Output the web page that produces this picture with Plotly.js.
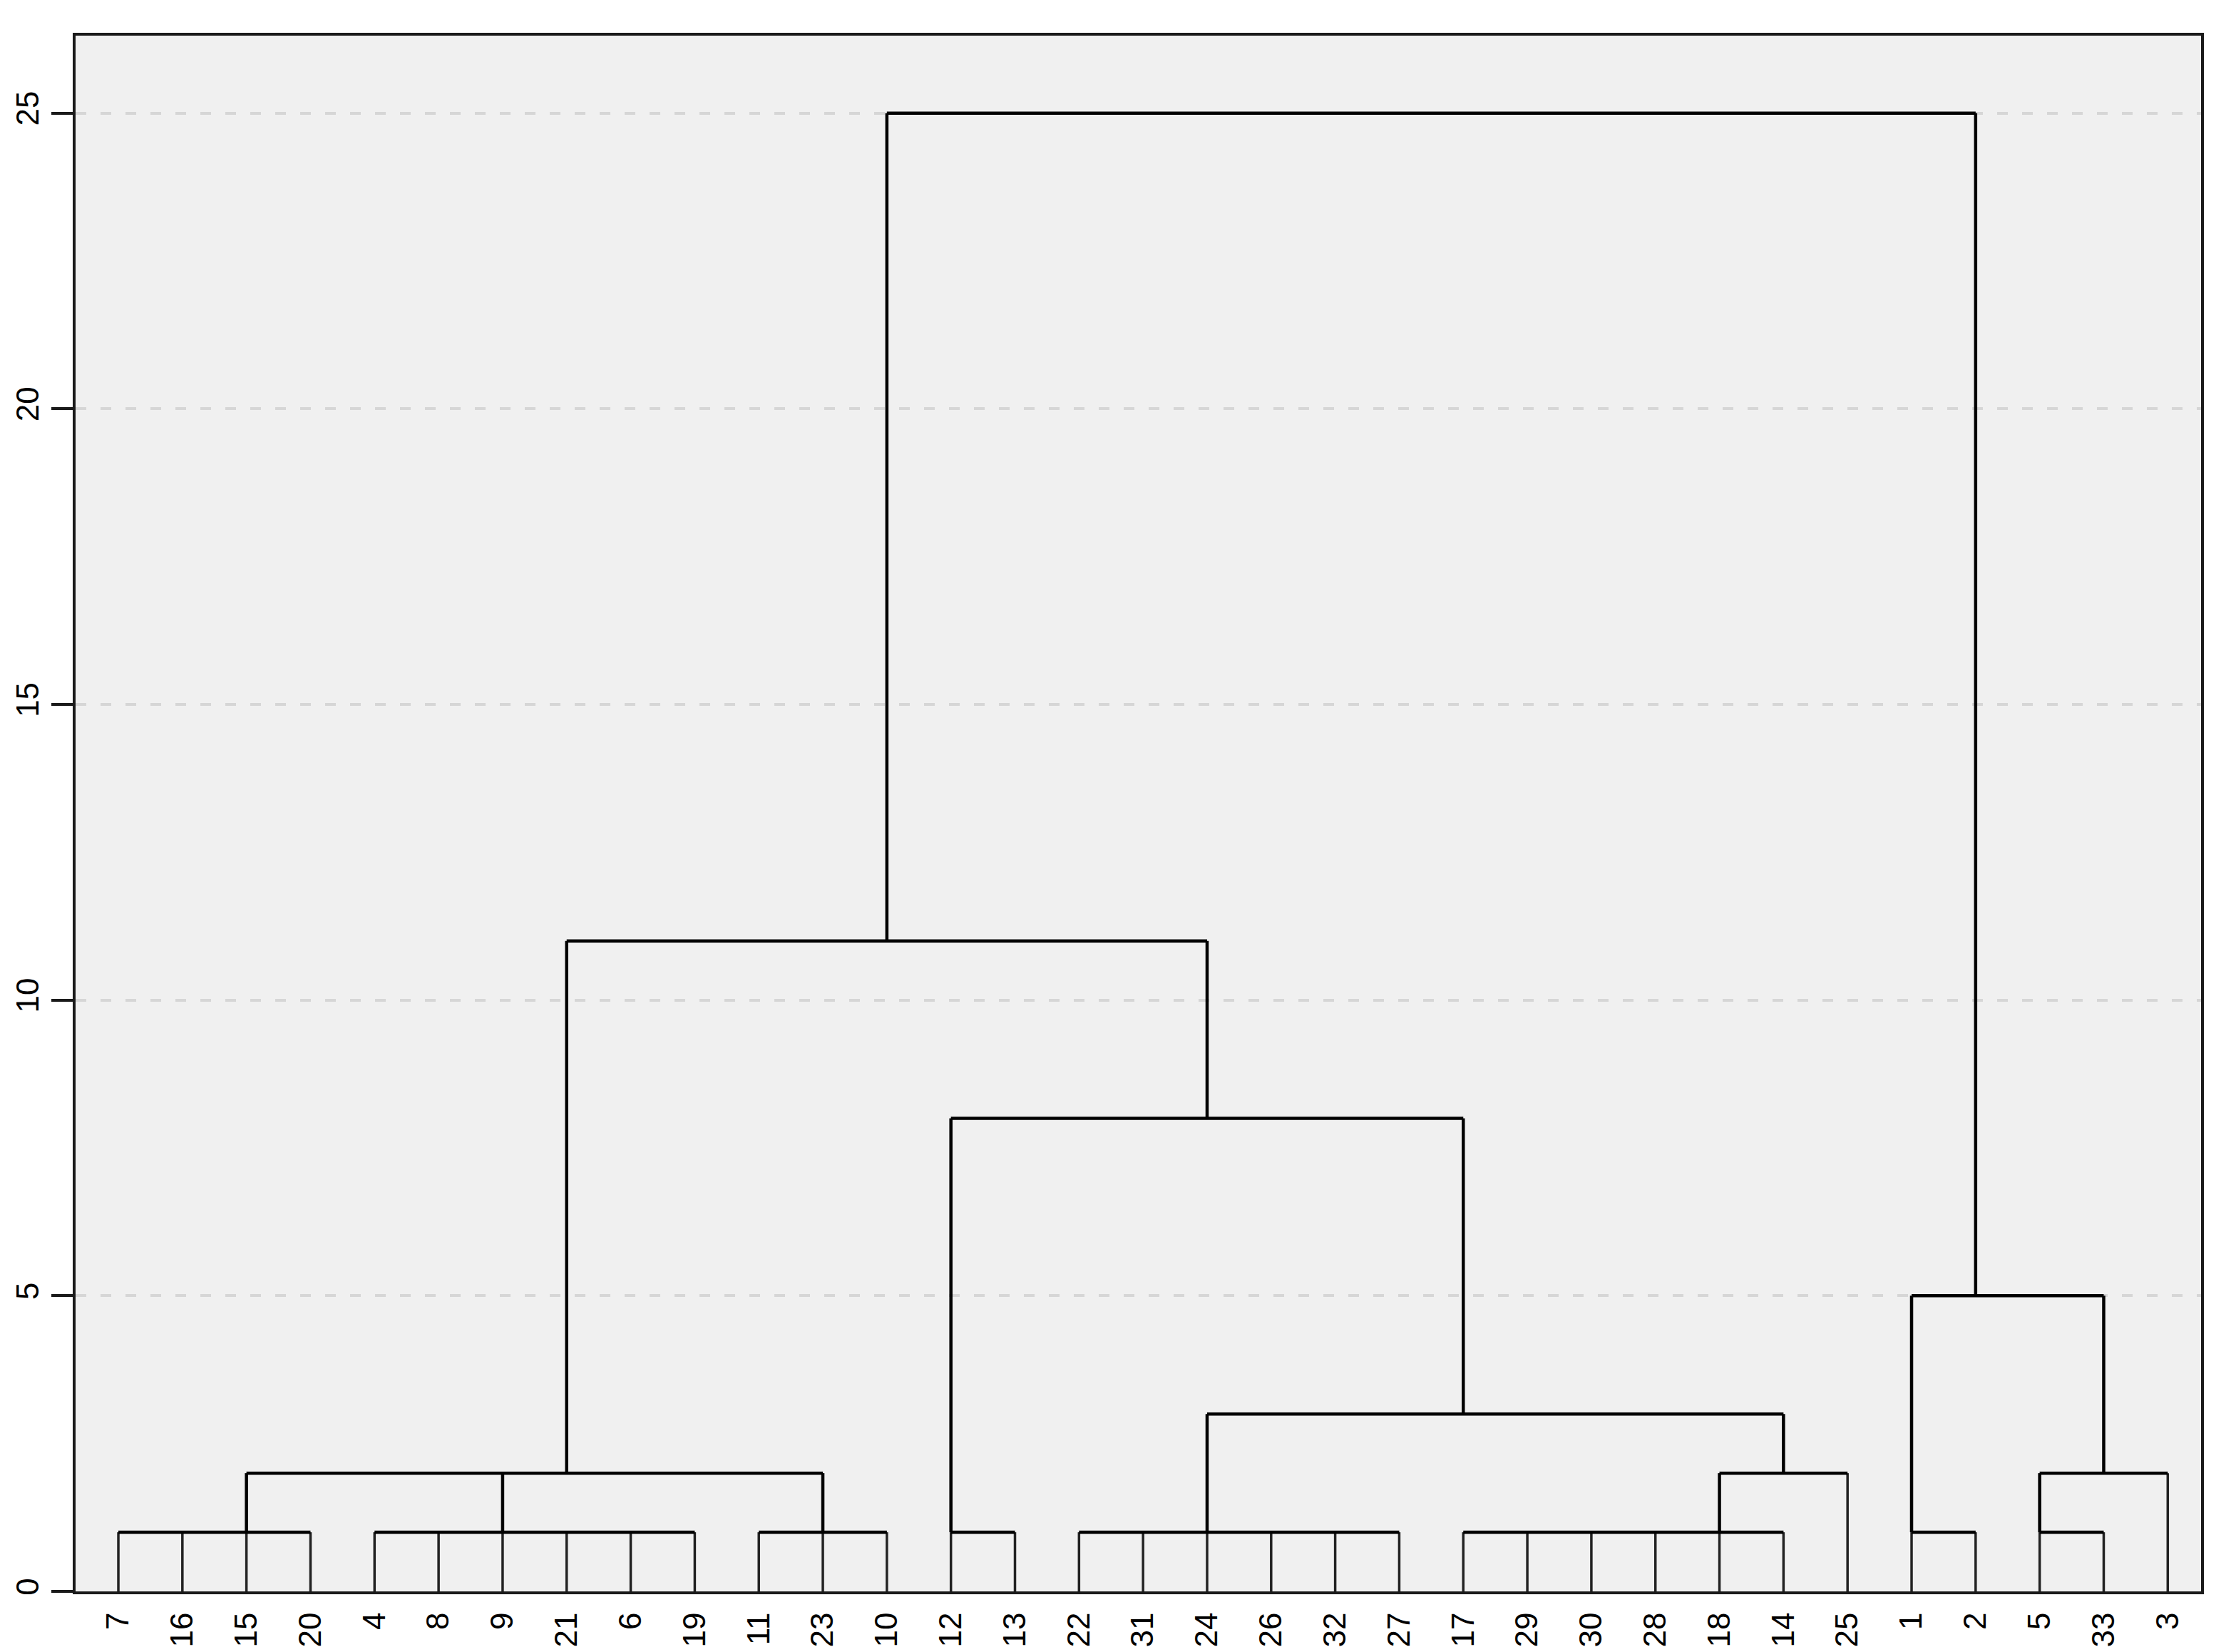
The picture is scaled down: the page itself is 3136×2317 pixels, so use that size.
<!DOCTYPE html>
<html>
<head>
<meta charset="utf-8">
<script src="https://cdn.plot.ly/plotly-3.0.1.min.js"></script>
<style>
  body { margin: 0; background: #fff; }
  #chart { width: 3136px; height: 2317px; }
</style>
</head>
<body>
<div id="chart"></div>
<script>
// leaf order along the bottom
const leafLabels = ["7","16","15","20","4","8","9","21","6","19","11","23","10","12","13",
                    "22","31","24","26","32","27","17","29","30","28","18","14","25",
                    "1","2","5","33","3"];
// which merge node each leaf joins
const leafParent = [0,0,0,0, 1,1,1,1,1,1, 2,2,2, 4,4, 5,5,5,5,5,5, 6,6,6,6,6,6, 7, 11,11, 12,12, 13];

// merge nodes: height, leaf position the node rises from, parent node (-1 = root)
const nodeHeight = [1, 1, 1, 2, 1, 1, 1, 2, 3, 8, 11, 1, 1, 2, 5, 25];
const nodeStem   = [2, 6, 11, 7, 13, 17, 25, 26, 21, 17, 12, 28, 30, 31, 29, null];
const nodeParent = [3, 3, 3, 10, 9, 8, 7, 8, 9, 10, 15, 14, 13, 14, 15, -1];

const yTicks = [0, 5, 10, 15, 20, 25];

function buildLines() {
  const leafX = [], leafY = [];
  const linkX = [], linkY = [];
  const lo = nodeHeight.map(() => Infinity);
  const hi = nodeHeight.map(() => -Infinity);

  // leaf stems from 0 up to their first merge
  leafLabels.forEach((lab, i) => {
    const p = leafParent[i];
    leafX.push(i, i, null);
    leafY.push(0, nodeHeight[p], null);
    lo[p] = Math.min(lo[p], i);
    hi[p] = Math.max(hi[p], i);
  });

  // node stems up to their parent
  nodeHeight.forEach((h, n) => {
    const p = nodeParent[n];
    if (p < 0) return;
    const s = nodeStem[n];
    linkX.push(s, s, null);
    linkY.push(h, nodeHeight[p], null);
    lo[p] = Math.min(lo[p], s);
    hi[p] = Math.max(hi[p], s);
  });

  // horizontal bars of each merge
  nodeHeight.forEach((h, n) => {
    linkX.push(lo[n], hi[n], null);
    linkY.push(h, h, null);
  });

  return { leafX, leafY, linkX, linkY };
}

const lines = buildLines();

const data = [
  {
    x: lines.leafX, y: lines.leafY, type: "scatter", mode: "lines",
    line: { color: "#222", width: 3.5 }, hoverinfo: "skip", cliponaxis: false
  },
  {
    x: lines.linkX, y: lines.linkY, type: "scatter", mode: "lines",
    line: { color: "#000", width: 4.5 }, hoverinfo: "skip", cliponaxis: false
  }
];

const layout = {
  width: 3136, height: 2317,
  margin: { l: 106, r: 49, t: 50, b: 85 },
  paper_bgcolor: "#fff",
  plot_bgcolor: "#f0f0f0",
  showlegend: false,
  font: { family: "Liberation Sans, Arial, sans-serif", size: 44, color: "#000" },
  xaxis: {
    range: [-0.668, 32.52],
    tickmode: "array",
    tickvals: leafLabels.map((_, i) => i),
    ticktext: leafLabels,
    tickangle: -90,
    ticks: "",
    showgrid: false, zeroline: false,
    showline: true, mirror: true, linecolor: "#1a1a1a", linewidth: 4,
    automargin: false,
    ticklabelstandoff: 8
  },
  yaxis: {
    range: [0, 26.31],
    tickmode: "array",
    tickvals: yTicks,
    ticktext: yTicks.map(String),
    tickangle: -90,
    ticks: "outside", ticklen: 30, tickwidth: 4, tickcolor: "#1a1a1a",
    showgrid: true, gridcolor: "#d6d6d6", gridwidth: 4, griddash: "15px,20px",
    zeroline: false,
    showline: true, mirror: true, linecolor: "#1a1a1a", linewidth: 4,
    automargin: false
  }
};

Plotly.newPlot("chart", data, layout, { staticPlot: true });
</script>
</body>
</html>
